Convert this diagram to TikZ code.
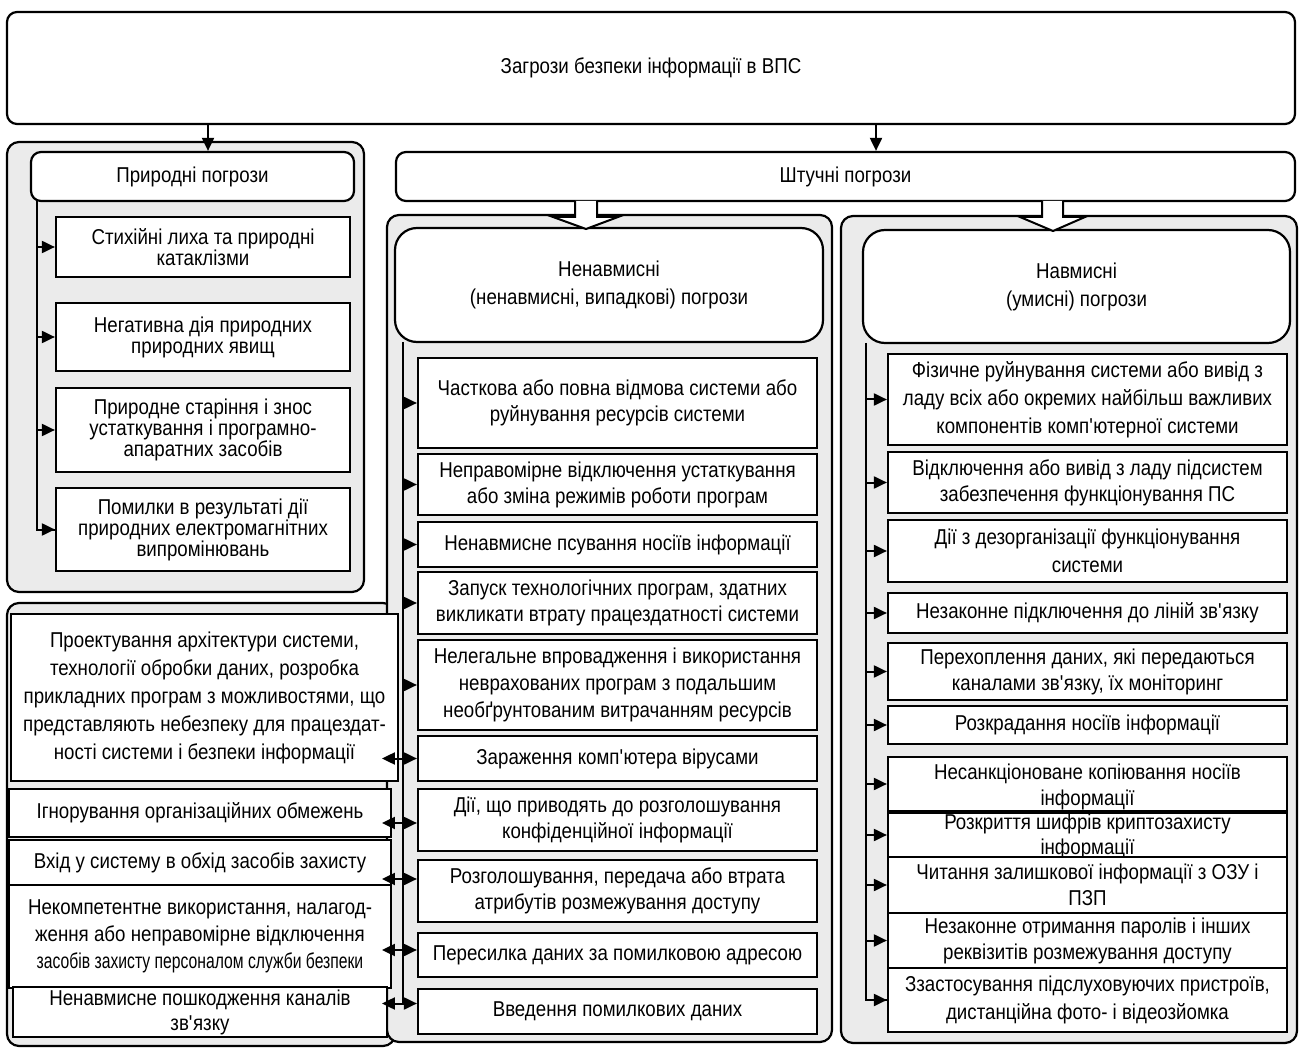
\documentclass[tikz,border=0pt]{standalone}
\usepackage{fontspec}
\setmainfont{Liberation Sans}[FakeStretch=0.87]
\usetikzlibrary{arrows.meta}
\tikzset{
    panel/.style = {draw, line width=2.2pt, fill=black!8, rounded corners=12pt},
    header/.style = {draw, line width=2.2pt, fill=white, rounded corners=10pt, align=center},
    bighead/.style = {header, rounded corners=22pt},
    cell/.style = {draw, line width=2.2pt, fill=white, align=center, inner sep=0pt},
    sz/.style 2 args = {minimum width=#1, minimum height=#2},
    link/.style = {line width=2pt, -{Triangle[length=13pt,width=12pt]}},
    duplex/.style = {line width=2pt, {Triangle[length=13pt,width=12pt]}-{Triangle[length=13pt,width=12pt]}},
    hollow/.style = {draw, line width=2pt, fill=white},
}
\begin{document}
\begin{tikzpicture}[x=1pt, y=-1pt, every node/.append style={font=\fontsize{21.5}{26}\selectfont}]
\useasboundingbox (0,0) rectangle (1299,1048);

% top
\node[header, sz={1288}{112}] (root) at (651,68) {Загрози безпеки інформації в ВПС};

% panels
\node[panel, sz={357}{450}] (natpanel) at (185.5,367) {};
\node[panel, sz={388}{443}] (lowpanel) at (201,824.5) {};
\node[panel, sz={445}{827}] (midpanel) at (609.5,628.5) {};
\node[panel, sz={456}{827}] (rightpanel) at (1069,629.5) {};

% headers
\node[header, sz={323}{49}] (prir) at (192.5,176.5) {Природні погрози};
\node[header, sz={899}{49}] (shtuch) at (845.5,176.5) {Штучні погрози};
\node[bighead, sz={428}{114}, font=\fontsize{21.5}{28}\selectfont] (nenav) at (609,285) {Ненавмисні\\(ненавмисні, випадкові) погрози};
\node[bighead, sz={427}{113}, font=\fontsize{21.5}{28}\selectfont] (navm) at (1076.5,286.5) {Навмисні\\(умисні) погрози};

\draw[link] (root.south -| 208,0) -- (prir.north -| 208,0);
\draw[link] (root.south -| 876,0) -- (shtuch.north -| 876,0);

% hollow arrows
\draw[hollow] (575,201) -- (575,217) -- (553,217) -- (586,229) -- (618,217) -- (597,217) -- (597,201);
\draw[hollow] (1042,201) -- (1042,217) -- (1020,217) -- (1053,231) -- (1085,217) -- (1063,217) -- (1063,201);

% natural threats
\begin{scope}[every node/.append style={font=\fontsize{21.5}{21}\selectfont}]
\node[cell, sz={294}{60}] (n1) at (203,247) {Стихійні лиха та природні\\катаклізми};
\node[cell, sz={294}{68}] (n2) at (203,337) {Негативна дія природних\\природних явищ};
\node[cell, sz={294}{84}] (n3) at (203,430) {Природне старіння і знос\\устаткування і програмно-\\апаратних засобів};
\node[cell, sz={294}{83}] (n4) at (203,529.5) {Помилки в результаті дії\\природних електромагнітних\\випромінювань};
\end{scope}
\coordinate (natbus) at (37,201);
\draw[line width=2pt] (natbus) |- (n4.west);
\foreach \n in {n1,n2,n3,n4}
    \draw[link] (natbus |- \n.west) -- (\n.west);

% unintentional threats
\node[cell, sz={399}{90}] (m1) at (617.5,403) {Часткова або повна відмова системи або\\руйнування ресурсів системи};
\node[cell, sz={399}{61}] (m2) at (617.5,484.5) {Неправомірне відключення устаткування\\або зміна режимів роботи програм};
\node[cell, sz={399}{45}] (m3) at (617.5,544.5) {Ненавмисне псування носіїв інформації};
\node[cell, sz={399}{62}] (m4) at (617.5,603) {Запуск технологічних програм, здатних\\викликати втрату працездатності системи};
\node[cell, sz={399}{90}, font=\fontsize{21.5}{27}\selectfont] (m5) at (617.5,685) {Нелегальне впровадження і використання\\неврахованих програм з подальшим\\необґрунтованим витрачанням ресурсів};
\node[cell, sz={399}{45}] (m6) at (617.5,758.5) {Зараження комп\textquotesingle ютера вірусами};
\node[cell, sz={399}{62}] (m7) at (617.5,820) {Дії, що приводять до розголошування\\конфіденційної інформації};
\node[cell, sz={399}{62}] (m8) at (617.5,891) {Розголошування, передача або втрата\\атрибутів розмежування доступу};
\node[cell, sz={399}{44}] (m9) at (617.5,955) {Пересилка даних за помилковою адресою};
\node[cell, sz={399}{45}] (m10) at (617.5,1011.5) {Введення помилкових даних};

% human factors
\node[cell, sz={387}{167}, font=\fontsize{21.5}{28}\selectfont] (l1) at (204.5,697.5) {Проектування архітектури системи,\\технології обробки даних, розробка\\прикладних програм з можливостями, що\\представляють небезпеку для працездат-\\ності системи і безпеки інформації};
\node[cell, sz={382}{48}] (l2) at (200,813) {Ігнорування організаційних обмежень};
\node[cell, sz={382}{45}] (l3) at (200,862.5) {Вхід у систему в обхід засобів захисту};
\node[cell, sz={382}{103}, font=\fontsize{21.5}{27}\selectfont] (l4) at (200,936.5) {Некомпетентне використання, налагод-\\ження або неправомірне відключення\\\scalebox{0.84}[1]{засобів захисту персоналом служби безпеки}};
\node[cell, sz={374}{50}, font=\fontsize{21.5}{25}\selectfont] (l5) at (200,1012) {Ненавмисне пошкодження каналів\\зв\textquotesingle язку};

\coordinate (midbus) at (403,342);
\draw[line width=2pt] (midbus) -- ([yshift=8pt]midbus |- m10.west);
\foreach \m in {m1,m2,m3,m4,m5}
    \draw[link] (midbus |- \m.west) -- (\m.west);
\foreach \m/\s in {m6/0,m7/-3,m8/12,m9/5,m10/8}
    \draw[duplex] ([xshift=-35pt,yshift=\s pt]\m.west) -- ([yshift=\s pt]\m.west);

% intentional threats
\node[cell, sz={399}{91}, font=\fontsize{21.5}{28}\selectfont] (r1) at (1087.5,399.5) {Фізичне руйнування системи або вивід з\\ладу всіх або окремих найбільш важливих\\компонентів комп\textquotesingle ютерної системи};
\node[cell, sz={399}{61}] (r2) at (1087.5,482.5) {Відключення або вивід з ладу підсистем\\забезпечення функціонування ПС};
\node[cell, sz={399}{62}, font=\fontsize{21.5}{28}\selectfont] (r3) at (1087.5,551) {Дії з дезорганізації функціонування\\системи};
\node[cell, sz={399}{40}] (r4) at (1087.5,613) {Незаконне підключення до ліній зв\textquotesingle язку};
\node[cell, sz={399}{57}] (r5) at (1087.5,671.5) {Перехоплення даних, які передаються\\каналами зв\textquotesingle язку, їх моніторинг};
\node[cell, sz={399}{38}] (r6) at (1087.5,725) {Розкрадання носіїв інформації};
\node[cell, sz={399}{54}] (r7) at (1087.5,784) {\raisebox{0pt}[16pt][0pt]{Несанкціоноване копіювання носіїв}\\\raisebox{0pt}[0pt][0pt]{інформації}};
\node[cell, sz={399}{44}, font=\fontsize{21.5}{25}\selectfont] (r8) at (1087.5,835) {\raisebox{0pt}[14pt][0pt]{Розкриття шифрів криптозахисту}\\\raisebox{0pt}[0pt][0pt]{інформації}};
\node[cell, sz={399}{56}] (r9) at (1087.5,885) {Читання залишкової інформації з ОЗУ і\\ПЗП};
\node[cell, sz={399}{55}] (r10) at (1087.5,940.5) {Незаконне отримання паролів і інших\\реквізитів розмежування доступу};
\node[cell, sz={399}{64}, font=\fontsize{21.5}{28}\selectfont] (r11) at (1087.5,1000) {Ззастосування підслуховуючих пристроїв,\\дистанційна фото- і відеозйомка};

\coordinate (rbus) at (866,343);
\draw[line width=2pt] (rbus) |- (r11.west);
\foreach \r in {r1,r2,r3,r4,r5,r6,r7,r8,r9,r10,r11}
    \draw[link] (rbus |- \r.west) -- (\r.west);
\end{tikzpicture}
\end{document}
